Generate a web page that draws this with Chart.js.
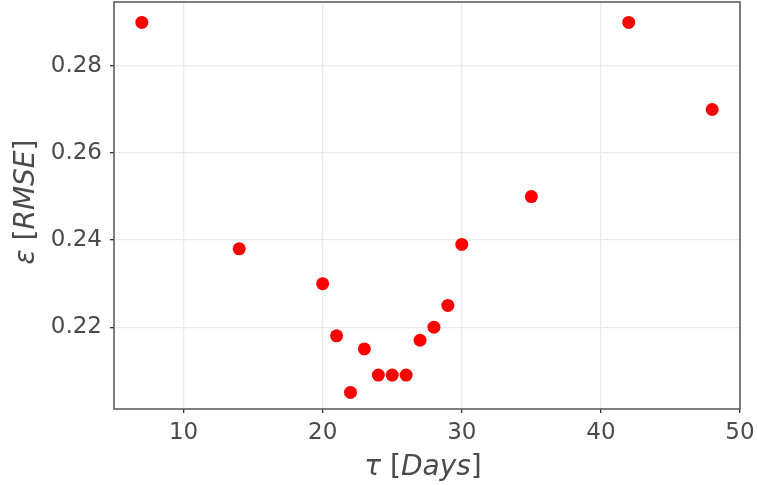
<!DOCTYPE html>
<html>
<head>
<meta charset="utf-8">
<script src="https://cdn.jsdelivr.net/npm/chart.js@4/dist/chart.umd.min.js"></script>
<style>
  html, body { margin: 0; padding: 0; background: #fff; }
</style>
</head>
<body>
<canvas id="chart" width="757" height="485"></canvas>
<script>
// window length tau (days) vs. RMSE
var tauDays = [7, 14, 20, 21, 22, 23, 24, 25, 26, 27, 28, 29, 30, 35, 42, 48];
var rmse = [0.290, 0.238, 0.230, 0.218, 0.205, 0.215, 0.209, 0.209, 0.209, 0.217, 0.220, 0.225, 0.239, 0.250, 0.290, 0.270];
var xTicks = [10, 20, 30, 40, 50];
var yTicks = [0.22, 0.24, 0.26, 0.28];

var textColor = "#4a4a4a";

// draws a label made of plain and italic pieces, centred on (cx, cy)
function drawParts(ctx, parts, cx, cy, size) {
	var total = 0;
	parts.forEach(function (p) {
		ctx.font = p[1] + " " + size + "px 'DejaVu Sans'";
		total += ctx.measureText(p[0]).width;
	});
	var x = cx - total / 2;
	ctx.textBaseline = "middle";
	ctx.textAlign = "left";
	ctx.fillStyle = textColor;
	parts.forEach(function (p) {
		ctx.font = p[1] + " " + size + "px 'DejaVu Sans'";
		ctx.fillText(p[0], x, cy);
		x += ctx.measureText(p[0]).width;
	});
}

var framePlugin = {
	id: "frame",
	afterDraw: function (chart) {
		var a = chart.chartArea, ctx = chart.ctx;
		ctx.save();
		ctx.strokeStyle = "#5e5e5e";
		ctx.lineWidth = 1.6;
		ctx.strokeRect(a.left, a.top, a.right - a.left, a.bottom - a.top);

		drawParts(ctx, [["τ", "italic"], [" [", ""], ["Days", "italic"], ["]", ""]],
			(a.left + a.right) / 2 - 4, 468, 28);

		ctx.translate(27, 202);
		ctx.rotate(-Math.PI / 2);
		drawParts(ctx, [["ε", "italic"], [" [", ""], ["RMSE", "italic"], ["]", ""]], 0, 0, 28);
		ctx.restore();
	}
};

var points = tauDays.map(function (t, i) {
	return { x: t, y: rmse[i] };
});

var ctx = document.getElementById("chart").getContext("2d");

new Chart(ctx, {
	type: "scatter",
	data: {
		datasets: [{
			data: points,
			backgroundColor: "#ff0000",
			borderWidth: 0,
			pointRadius: 6.5,
			pointHoverRadius: 6.5
		}]
	},
	options: {
		responsive: false,
		animation: false,
		layout: { autoPadding: false, padding: { top: 2, right: 17, left: 0, bottom: 0 } },
		plugins: {
			legend: { display: false },
			tooltip: { enabled: false }
		},
		scales: {
			x: {
				type: "linear",
				min: 5,
				max: 50,
				afterBuildTicks: function (scale) {
					scale.ticks = xTicks.map(function (v) { return { value: v }; });
				},
				afterFit: function (scale) {
					scale.height = 76;
					scale.paddingLeft = 0;
					scale.paddingRight = 0;
				},
				grid: { color: "#ebebeb", lineWidth: 1.3, tickColor: "#333", tickLength: 4 },
				border: { display: false },
				ticks: {
					color: textColor,
					padding: 6,
					maxRotation: 0,
					font: { family: "'DejaVu Sans'", size: 23 }
				}
			},
			y: {
				min: 0.2012,
				max: 0.2947,
				afterBuildTicks: function (scale) {
					scale.ticks = yTicks.map(function (v) { return { value: v }; });
				},
				afterFit: function (scale) {
					scale.width = 114;
					scale.paddingTop = 0;
					scale.paddingBottom = 0;
				},
				grid: { color: "#ebebeb", lineWidth: 1.3, tickColor: "#333", tickLength: 4 },
				border: { display: false },
				ticks: {
					color: textColor,
					padding: 8,
					font: { family: "'DejaVu Sans'", size: 23 },
					callback: function (v) { return v.toFixed(2); }
				}
			}
		}
	},
	plugins: [framePlugin]
});
</script>
</body>
</html>
